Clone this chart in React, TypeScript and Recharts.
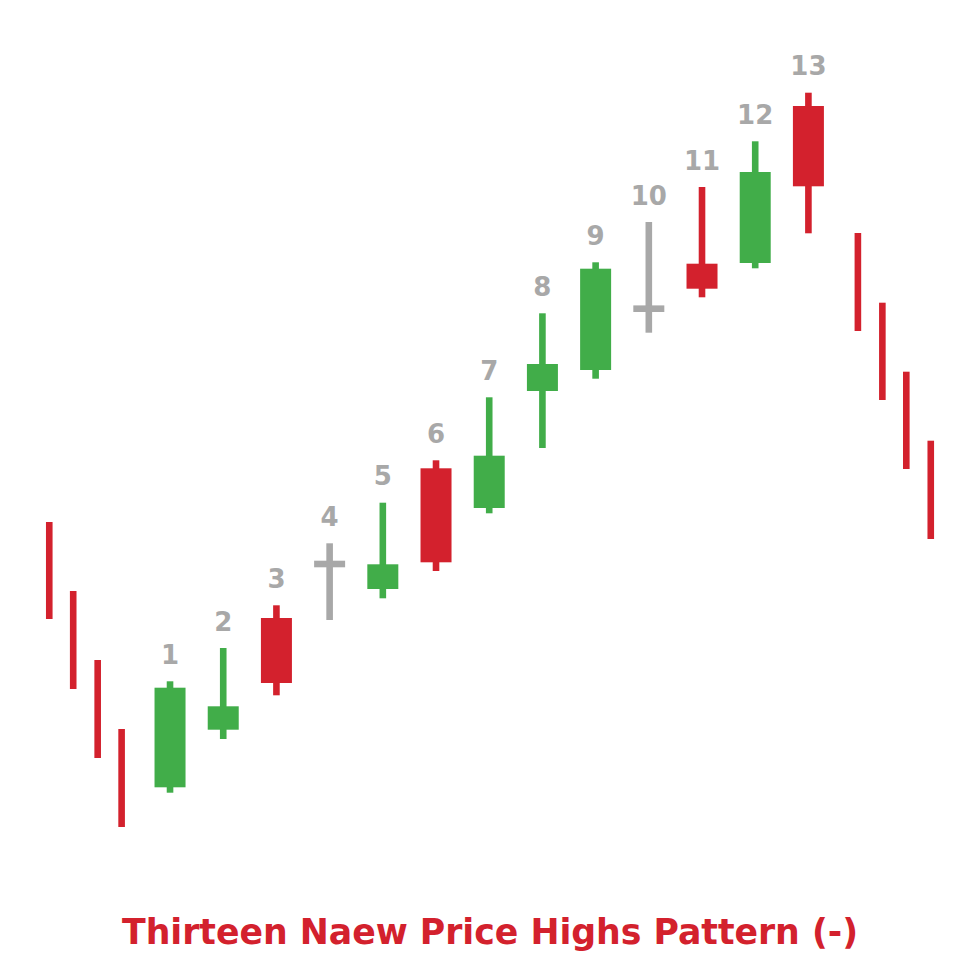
import React from 'react';
import { ComposedChart, Bar, XAxis, YAxis } from 'recharts';

// Candle positions along the time axis (candle units; the small plain bars sit closer together)
const positions = [-1.27, -0.82, -0.36, 0.09, 1, 2, 3, 4, 5, 6, 7, 8, 9, 10, 11, 12, 13, 13.93, 14.39, 14.84, 15.3];
const labels = ['', '', '', '', '1', '2', '3', '4', '5', '6', '7', '8', '9', '10', '11', '12', '13', '', '', '', ''];
const highs = [37.8, 30.9, 24.0, 17.1, 21.87, 25.2, 29.47, 35.67, 39.73, 43.97, 50.27, 58.67, 63.77, 67.8, 71.3, 75.87, 80.73, 66.7, 59.73, 52.83, 45.93];
const lows = [28.1, 21.1, 14.2, 7.3, 10.73, 16.1, 20.47, 28.0, 30.17, 32.9, 38.67, 45.2, 52.13, 56.73, 60.27, 63.17, 66.67, 56.9, 50.0, 43.1, 36.1];
const opens: (number | null)[] = [null, null, null, null, 11.27, 17.03, 28.2, 33.6, 31.1, 43.17, 39.2, 50.9, 53.0, 59.13, 63.63, 63.7, 79.4, null, null, null, null];
const closes: (number | null)[] = [null, null, null, null, 21.23, 19.37, 21.7, 33.6, 33.57, 33.77, 44.43, 53.6, 63.13, 59.13, 61.13, 72.8, 71.37, null, null, null, null];

const title = 'Thirteen Naew Price Highs Pattern (-)';

const RED = '#D3212D';
const GREEN = '#41AD49';
const GRAY = '#A8A8A8';

const data = positions.map((pos, i) => ({
  pos,
  label: labels[i],
  high: highs[i],
  low: lows[i],
  open: opens[i],
  close: closes[i],
  range: [lows[i], highs[i]],
}));

const BODY_W = 31;
const WICK_W = 6.6;

const CandleShape = (props: any) => {
  const { x, y, width, height, payload } = props;
  if (x == null || y == null || !payload) return null;
  const cx = x + width / 2;
  const top = Math.min(y, y + height);
  const bottom = Math.max(y, y + height);
  const { high, low, open, close, label } = payload;
  const toPx = (v: number) => top + ((high - v) / (high - low)) * (bottom - top);

  if (open == null || close == null) {
    return (
      <g>
        <rect x={cx - WICK_W / 2} y={top} width={WICK_W} height={bottom - top} fill={RED} />
      </g>
    );
  }
  const isDoji = open === close;
  const color = isDoji ? GRAY : close > open ? GREEN : RED;
  const bTop = toPx(Math.max(open, close));
  const bBot = toPx(Math.min(open, close));
  return (
    <g>
      <rect x={cx - WICK_W / 2} y={top} width={WICK_W} height={bottom - top} fill={color} />
      {isDoji ? (
        <rect x={cx - BODY_W / 2} y={bTop - WICK_W / 2} width={BODY_W} height={WICK_W} fill={color} />
      ) : (
        <rect x={cx - BODY_W / 2} y={bTop} width={BODY_W} height={bBot - bTop} fill={color} />
      )}
      {label ? (
        <text
          x={cx}
          y={top - 17.5}
          textAnchor="middle"
          fontFamily="'DejaVu Sans', Verdana, sans-serif"
          fontWeight="bold"
          fontSize={26}
          fill={GRAY}
        >
          {label}
        </text>
      ) : null}
    </g>
  );
};

export default function App() {
  return (
    <div style={{ position: 'absolute', left: 0, top: 0, width: 980, height: 980, background: '#fff' }}>
      <ComposedChart width={980} height={980} data={data} margin={{ top: 0, right: 0, bottom: 0, left: 0 }}>
        <XAxis type="number" dataKey="pos" domain={[-2.1955, 16.226]} hide allowDataOverflow />
        <YAxis type="number" domain={[-8, 90]} hide allowDataOverflow />
        <Bar dataKey="range" barSize={10} shape={CandleShape} isAnimationActive={false} />
      </ComposedChart>
      <svg width={980} height={980} style={{ position: 'absolute', left: 0, top: 0, pointerEvents: 'none' }}>
        <text
          x={490}
          y={944}
          textAnchor="middle"
          fontFamily="'DejaVu Sans Condensed', 'DejaVu Sans', sans-serif"
          fontWeight="bold"
          fontSize={36}
          fill={RED}
          textLength={736}
          lengthAdjust="spacingAndGlyphs"
        >
          {title}
        </text>
      </svg>
    </div>
  );
}
